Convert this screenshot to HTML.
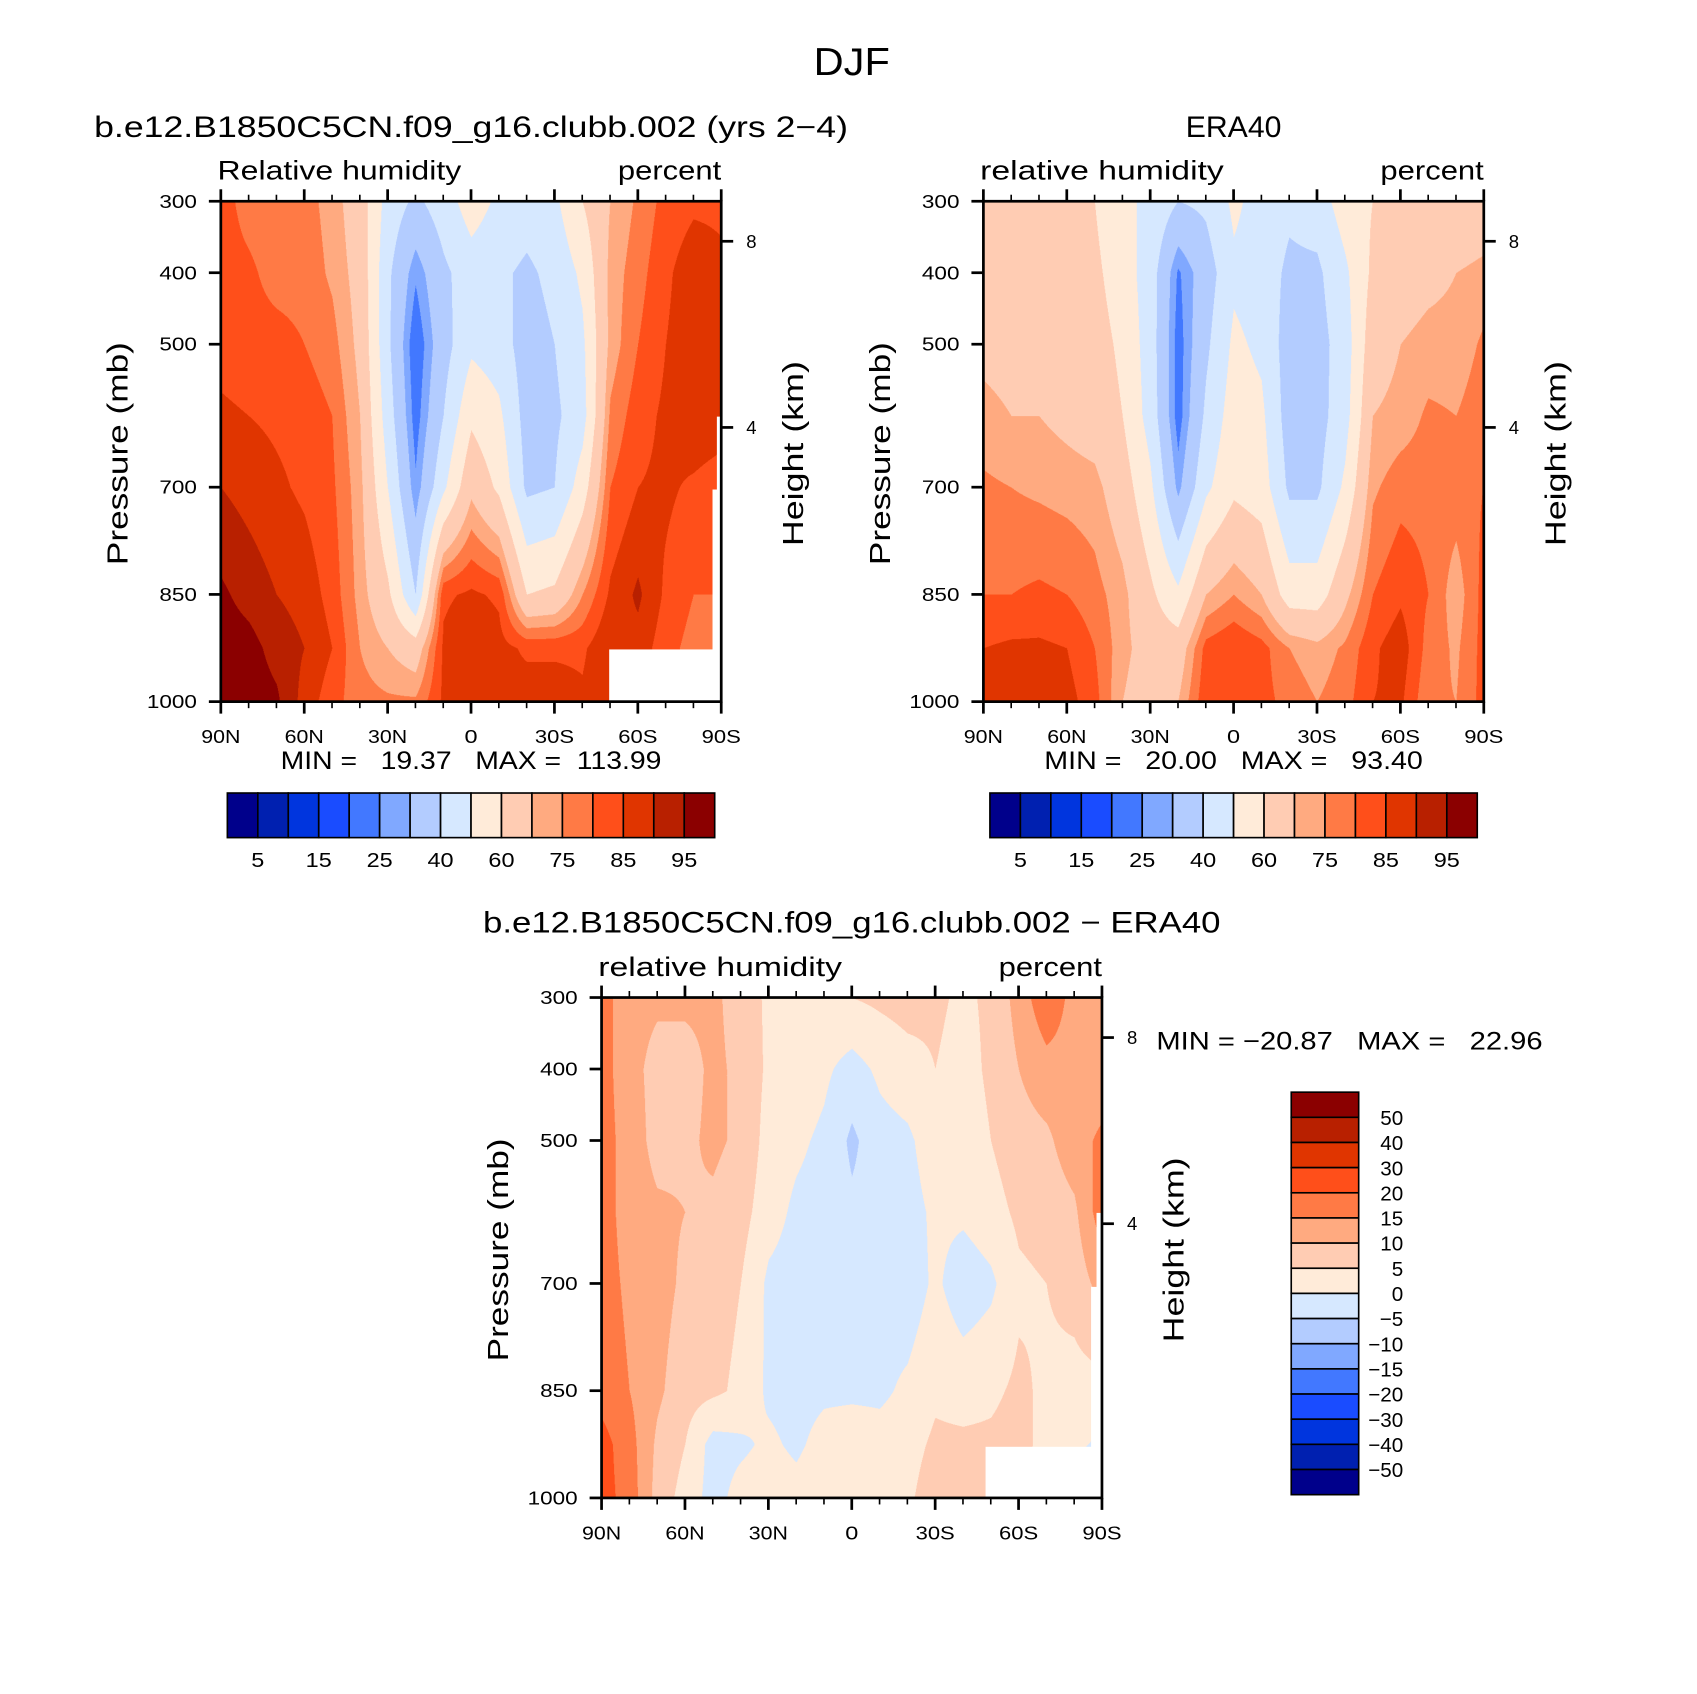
<!DOCTYPE html>
<html><head><meta charset="utf-8">
<style>
html,body{margin:0;padding:0;background:#fff;}
#root{position:relative;width:1560px;height:1557px;transform:scale(1.08782);transform-origin:0 0;overflow:hidden;background:#fff;}
canvas{position:absolute;}
svg{position:absolute;left:0;top:0;}
text{font-family:"Liberation Sans","DejaVu Sans",sans-serif;fill:#000;}
</style></head>
<body>
<div id="root">
<canvas id="c1"></canvas>
<canvas id="c2"></canvas>
<canvas id="c3"></canvas>
<svg id="ov" width="1560" height="1557" viewBox="0 0 1560 1557"></svg>
</div>
<script>
// ---- data ----
const lats = [90,80,70,60,50,40,30,20,10,0,-10,-20,-30,-40,-50,-60,-70,-80,-90];
const pressures = [300,400,500,600,700,850,925,1000];
const modelRH = [
[82,82,83,86,90,96,98,99],
[78,81,82,85,88,93,97,98],
[77,78,82,84,86,90,93,96],
[77,78,80,83,84,88,90,88],
[73,74,77,80,81,83,85,82],
[65,67,68,70,72,73,75,77],
[46,42,42,45,50,62,70,76],
[38,26,20,22,26,40,65,76],
[45,38,36,40,48,84,86,86],
[55,45,48,58,68,86,90,88],
[48,42,45,52,58,84,87,86],
[45,38,35,36,38,60,84,88],
[48,43,40,38,40,62,84,88],
[60,52,48,46,55,75,84,86],
[70,72,72,76,80,86,90,90],
[76,78,80,83,85,91,88,88],
[82,84,85,86,86,84,82,82],
[84,88,88,89,84,80,78,78],
[84,86,87,88,82,80,78,78]];
const eraRH = [
[68,68,68,72,76,80,85,88],
[66,66,67,70,75,80,86,88],
[65,66,67,70,74,81,86,88],
[63,65,66,68,73,80,85,87],
[60,62,64,66,72,77,80,82],
[52,55,58,60,65,72,72,70],
[48,45,45,46,52,62,66,65],
[40,24,22,22,28,52,65,70],
[42,35,38,42,48,70,82,84],
[52,48,52,55,58,75,85,84],
[46,45,48,52,55,70,82,82],
[42,38,35,35,38,55,75,78],
[45,38,36,36,38,55,72,75],
[55,48,45,46,52,68,76,78],
[60,62,66,70,74,80,84,85],
[62,66,70,72,78,84,88,86],
[62,68,72,76,78,80,78,76],
[62,70,72,75,78,72,74,75],
[64,72,76,78,80,82,82,82]];
const diffRH = [
[17,17,17,17,17,18,22,22],
[12,12,13,13,14,15,17,18],
[11,8,8,11,12,11,9,8],
[11,8,9,10,9,7,5,3],
[11,11,11,9,7,6,-2,-2],
[8,9,9,7,5,4,-1,2],
[4,4,3,2,-1,-1,1,3],
[4,3,1,-1,-2,-2,-1,2],
[4,1,-1,-2,-2,-1,2,4],
[5,-2,-6,-4,-3,-1,3,2],
[6,1,-2,-3,-2,-1,2,2],
[7,3,-1,-2,-3,1,3,4],
[6,5,3,1,1,4,6,8],
[4,3,2,1,-3,3,6,6],
[6,6,5,3,-1,4,6,7],
[12,10,8,6,4,6,7,7],
[19,13,9,7,5,4,3,2],
[13,13,13,9,7,3,1,-2],
[12,12,16,18,12,3,-1,-8]];
const rhLevels = [5,10,15,20,25,30,40,50,60,70,75,80,85,90,95];
const diffLevels = [-50,-40,-30,-20,-15,-10,-5,0,5,10,15,20,30,40,50];
const rhLabels = ["5","15","25","40","60","75","85","95"];
const diffLabels = ["50","40","30","20","15","10","5","0","\u22125","\u221210","\u221215","\u221220","\u221230","\u221240","\u221250"];
const latTicks = ["90N","60N","30N","0","30S","60S","90S"];
const presTicks = [300,400,500,700,850,1000];
const heightTicks = [8,4];
const colors = ["#00008b","#0020b0","#0035de","#1a4cff","#4278ff","#80a8ff","#b3ccff","#d6e8ff","#ffebd9","#ffccb3","#ffaa80","#ff7a45","#ff4f1a","#e03500","#b82000","#8b0000"];

const panels = [
 {id:'c1',x:203,y:185,data:modelRH,levels:rhLevels},
 {id:'c2',x:904,y:185,data:eraRH,levels:rhLevels},
 {id:'c3',x:553,y:917,data:diffRH,levels:diffLevels}];
const W=460,H=460;
function xOf(p,lat){return p.x+(90-lat)/180*W;}
function yOf(p,pr){return p.y+(pr-300)/700*H;}
function hex(c){return [parseInt(c.substr(1,2),16),parseInt(c.substr(3,2),16),parseInt(c.substr(5,2),16)];}
const rgb=colors.map(hex);
function sample(data,lat,pr){
 let fi=(90-lat)/10; let i0=Math.min(17,Math.floor(fi)); let tx=fi-i0;
 let j0=0; while(j0<pressures.length-2 && pr>pressures[j0+1]) j0++;
 let ty=(pr-pressures[j0])/(pressures[j0+1]-pressures[j0]);
 const a=data[i0][j0],b=data[i0+1][j0],c=data[i0][j0+1],d=data[i0+1][j0+1];
 return (a*(1-tx)+b*tx)*(1-ty)+(c*(1-tx)+d*tx)*ty;
}
const S=2;
panels.forEach(p=>{
 const cv=document.getElementById(p.id);
 cv.width=W*S;cv.height=H*S;
 cv.style.left=p.x+'px';cv.style.top=p.y+'px';cv.style.width=W+'px';cv.style.height=H+'px';
 const ctx=cv.getContext('2d');const img=ctx.createImageData(W*S,H*S);
 for(let py=0;py<H*S;py++){const pr=300+(py/S)/H*700;
  for(let px=0;px<W*S;px++){const lat=90-(px/S)/W*180;
   const v=sample(p.data,lat,pr);let k=0;while(k<p.levels.length&&v>=p.levels[k])k++;
   const c=rgb[k];const o=(py*W*S+px)*4;img.data[o]=c[0];img.data[o+1]=c[1];img.data[o+2]=c[2];img.data[o+3]=255;}}
 ctx.putImageData(img,0,0);
});

const NS='http://www.w3.org/2000/svg';const ov=document.getElementById('ov');
function el(tag,attrs,txt){const e=document.createElementNS(NS,tag);for(const k in attrs)e.setAttribute(k,attrs[k]);if(txt!==undefined)e.textContent=txt;ov.appendChild(e);return e;}
function heightP(km){return 1013.25*Math.pow(1-2.25577e-5*km*1000,5.2559);}

let m;
m=el('rect',{x:560,y:597,width:103,height:48,fill:'#fff'});
m=el('rect',{x:655,y:450,width:8,height:150,fill:'#fff'});
m=el('rect',{x:659,y:383,width:4,height:70,fill:'#fff'});
m=el('rect',{x:906,y:1330,width:108,height:48,fill:'#fff'});
m=el('rect',{x:1003,y:1183,width:11,height:150,fill:'#fff'});
m=el('rect',{x:1008,y:1115,width:6,height:70,fill:'#fff'});

function txt(x,y,s,size,anchor,name,len){const a={x:x,y:y,'font-size':size,'text-anchor':anchor};
 if(len){a.textLength=len;a.lengthAdjust='spacingAndGlyphs';}
 const e=el('text',a,s);
 return e;}

panels.forEach((p,pi)=>{
 let f=el('rect',{x:p.x,y:p.y,width:W,height:H,fill:'none',stroke:'#000','stroke-width':2.5});
 
 for(let lat=90;lat>=-90;lat-=10){const x=xOf(p,lat);const major=lat%30===0;const L=major?11:6;
  el('line',{x1:x,y1:p.y,x2:x,y2:p.y-L,stroke:'#000','stroke-width':major?2.5:1.5});
  el('line',{x1:x,y1:p.y+H,x2:x,y2:p.y+H+L,stroke:'#000','stroke-width':major?2.5:1.5});}
 latTicks.forEach((t,i)=>{const lt=90-i*30;
  txt(xOf(p,lt),p.y+H+38,t,17,'middle','x-tick-label',t.length*12);});
 presTicks.forEach(pr=>{const y=yOf(p,pr);el('line',{x1:p.x-11,y1:y,x2:p.x,y2:y,stroke:'#000','stroke-width':2.5});
  const s=String(pr);txt(p.x-22,y+6,s,17,'end','pressure-tick-label',s.length*11.5);});
 heightTicks.forEach(km=>{const y=yOf(p,heightP(km));el('line',{x1:p.x+W,y1:y,x2:p.x+W+11,y2:y,stroke:'#000','stroke-width':2.5});
  txt(p.x+W+23,y+6,String(km),17,'start','height-tick-label');});
 let t=el('text',{transform:`translate(${p.x-86},${p.y+232}) rotate(-90)`,'font-size':26,'text-anchor':'middle',textLength:205,lengthAdjust:'spacingAndGlyphs'},'Pressure (mb)');
 
 t=el('text',{transform:`translate(${p.x+W+75},${p.y+232}) rotate(-90)`,'font-size':26,'text-anchor':'middle',textLength:170,lengthAdjust:'spacingAndGlyphs'},'Height (km)');
 
 txt(p.x-3,p.y-20,pi===0?'Relative humidity':'relative humidity',25,'start','variable-label',224);
 txt(p.x+W,p.y-20,'percent',25,'end','units-label',95);
});

txt(783,69,'DJF',36,'middle','figure-title',70);
txt(433,126,'b.e12.B1850C5CN.f09_g16.clubb.002 (yrs 2\u22124)',27,'middle','model-panel-title',693);
txt(1134,126,'ERA40',27,'middle','era40-panel-title',88);
txt(783,857,'b.e12.B1850C5CN.f09_g16.clubb.002 \u2212 ERA40',27,'middle','difference-panel-title',678);
txt(433,707,'MIN =\u00a0\u00a0\u00a019.37\u00a0\u00a0\u00a0MAX =\u00a0\u00a0113.99',23,'middle','model-min-max',350);
txt(1134,707,'MIN =\u00a0\u00a0\u00a020.00\u00a0\u00a0\u00a0MAX =\u00a0\u00a0\u00a093.40',23,'middle','era40-min-max',348);
txt(1063,965,'MIN = \u221220.87\u00a0\u00a0\u00a0MAX =\u00a0\u00a0\u00a022.96',23,'start','difference-min-max',355);

[209,910].forEach((x0,ci)=>{const bw=448/16;
 colors.forEach((c,i)=>{const r=el('rect',{x:x0+i*bw,y:729,width:bw,height:41,fill:c,stroke:'#000','stroke-width':1.5});
  });
 rhLabels.forEach((l,i)=>{txt(x0+(2*i+1)*bw,797,l,19,'middle','colorbar-label',l.length*12);});
});
{const x0=1187,y0=1004,bh=370/16;
 for(let i=0;i<16;i++){const r=el('rect',{x:x0,y:y0+i*bh,width:62,height:bh,fill:colors[15-i],stroke:'#000','stroke-width':1.5});
  }
 diffLabels.forEach((l,i)=>{txt(1290,y0+(i+1)*bh+7,l,19,'end','diff-colorbar-label');});
}
</script>
</body></html>
